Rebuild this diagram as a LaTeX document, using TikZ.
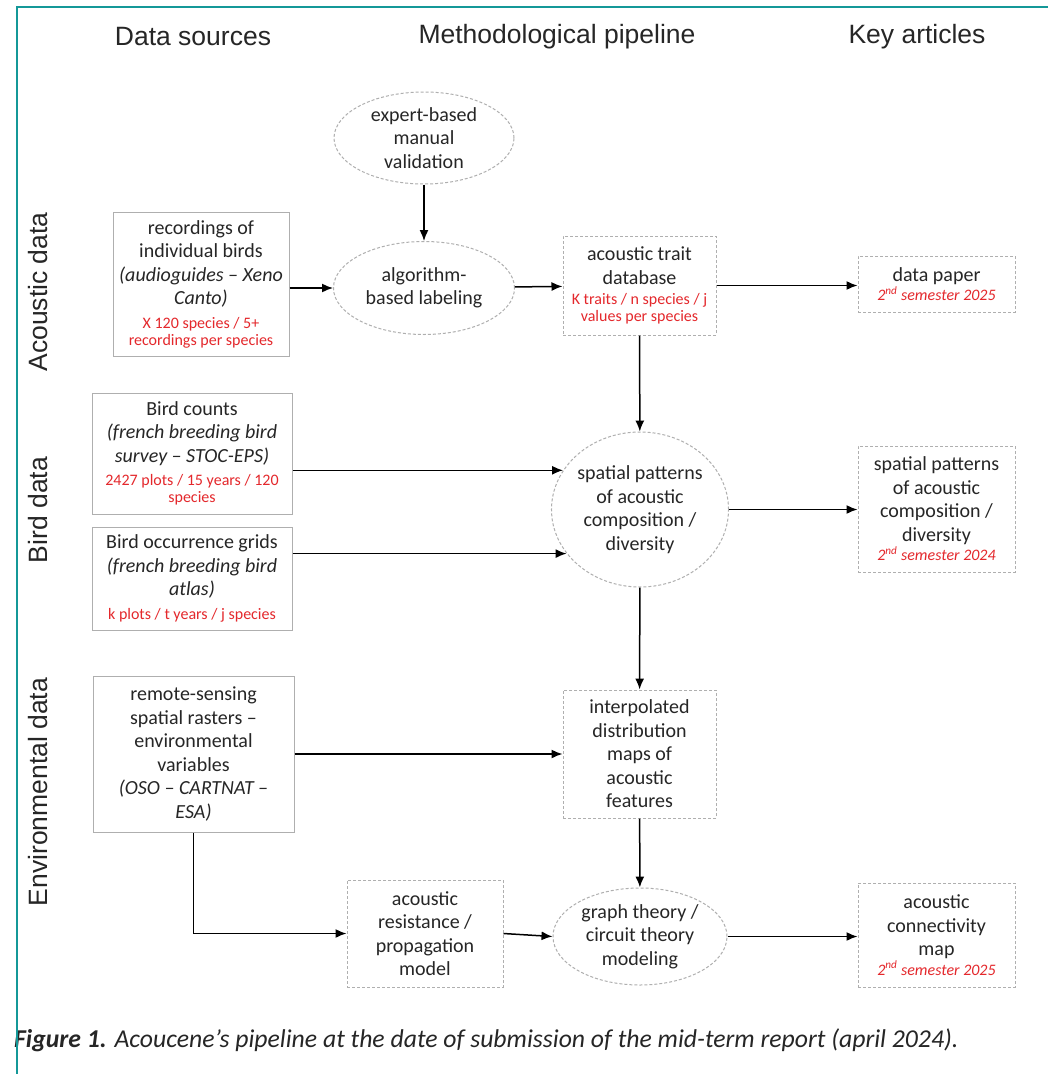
\documentclass[tikz,border=0pt]{standalone}
\usepackage{fontspec}
\setmainfont{Carlito}
\newfontfamily\headfont{Liberation Sans}
\usetikzlibrary{shapes.geometric,arrows.meta}
\definecolor{frameteal}{RGB}{20,152,152}
\definecolor{notered}{RGB}{228,40,44}
\definecolor{boxgray}{RGB}{175,175,175}
\newcommand{\redline}[1]{{\color{notered}\fontsize{16}{17}\selectfont #1}}
\newcommand{\dateline}[1]{{\color{notered}\fontsize{16}{17}\selectfont\itshape #1}}
\tikzset{
  txt/.style={font=\fontsize{20}{23.5}\selectfont, text=black!85, align=center, inner sep=2pt},
  srcbox/.style={txt, draw=boxgray, line width=1pt, rectangle},
  dashbox/.style={txt, draw=boxgray, line width=1pt, dash pattern=on 3pt off 2pt, rectangle},
  dashell/.style={txt, draw=boxgray, line width=1pt, dash pattern=on 3pt off 2pt, ellipse, inner sep=0pt},
  arr/.style={draw=black, line width=1.5pt, -{Latex[length=11pt,width=9pt]}},
  head/.style={font=\headfont\fontsize{26.5}{30}\selectfont, text=black!85},
  side/.style={font=\headfont\fontsize{26.5}{30}\selectfont, text=black!85, rotate=90}
}
\begin{document}
\begin{tikzpicture}[x=1pt,y=-1pt]
\useasboundingbox (0,0) rectangle (1048,1074);
\fill[white] (0,0) rectangle (1048,1074);

% column headers
\node[head] (hsrc) at (193,37) {Data sources};
\node[head] (hpipe) at (557,37) {Methodological pipeline};
\node[head] (hart) at (917,37) {Key articles};

% row labels
\node[side] (lac) at (38,292) {Acoustic data};
\node[side] (lbird) at (38,510) {Bird data};
\node[side] (lenv) at (38,792) {Environmental data};

% data sources
\node[srcbox, minimum width=176pt, minimum height=144pt] (rec) at (201,284)
  {recordings of\\individual birds\\\textit{(audioguides -- Xeno}\\\textit{Canto)}\\
   \redline{X 120 species / 5+}\\[-6.5pt]\redline{recordings per species}};
\node[srcbox, minimum width=200pt, minimum height=121pt] (bc) at (192,453.5)
  {Bird counts\\\textit{(french breeding bird}\\\textit{survey -- STOC-EPS)}\\
   \redline{2427 plots / 15 years / 120}\\[-6.5pt]\redline{species}};
\node[srcbox, minimum width=200pt, minimum height=103pt] (occ) at (192,578.5)
  {Bird occurrence grids\\\textit{(french breeding bird}\\\textit{atlas)}\\
   \redline{k plots / t years / j species}};
\node[srcbox, minimum width=201pt, minimum height=156pt] (rs) at (193.5,754)
  {remote-sensing\\spatial rasters --\\environmental\\variables\\\textit{(OSO -- CARTNAT --}\\\textit{ESA)}};

% pipeline
\node[dashell, minimum width=180pt, minimum height=92pt] (exp) at (424,138)
  {expert-based\\manual\\validation};
\node[dashell, minimum width=181pt, minimum height=93pt] (alg) at (424,288)
  {algorithm-\\based labeling};
\node[dashbox, minimum width=153pt, minimum height=99pt] (db) at (639.5,285.5)
  {acoustic trait\\database\\[-3pt]\redline{K traits / n species / j}\\[-6.5pt]\redline{values per species}};
\node[dashell, minimum width=174pt, minimum height=155pt] (sp) at (640,509.5)
  {spatial patterns\\of acoustic\\composition /\\diversity};
\node[dashbox, minimum width=153pt, minimum height=128pt] (ip) at (639.5,754)
  {interpolated\\distribution\\maps of\\acoustic\\features};
\node[dashbox, minimum width=156pt, minimum height=107pt] (res) at (425,933.5)
  {acoustic\\resistance /\\propagation\\model};
\node[dashell, minimum width=174pt, minimum height=97pt] (gr) at (640,936.5)
  {graph theory /\\circuit theory\\modeling};

% key articles
\node[dashbox, minimum width=157pt, minimum height=56pt] (pap) at (936.5,284)
  {data paper\\[-4pt]\dateline{2\textsuperscript{nd} semester 2025}};
\node[dashbox, minimum width=157pt, minimum height=126pt] (spr) at (936.5,509)
  {spatial patterns\\of acoustic\\composition /\\diversity\\[-4pt]\dateline{2\textsuperscript{nd} semester 2024}};
\node[dashbox, minimum width=157pt, minimum height=104pt] (con) at (936.5,935)
  {acoustic\\connectivity\\map\\[-4pt]\dateline{2\textsuperscript{nd} semester 2025}};

% connectors
\draw[arr] (exp) -- (alg);
\draw[arr] (rec.east |- alg) -- (alg);
\draw[arr] (alg) -- (db);
\draw[arr] (db) -- (pap.west |- db);
\draw[arr] (db) -- (sp);
\draw[arr] (bc.east |- sp.153) -- (sp.153);
\draw[arr] (occ.east |- sp.211) -- (sp.211);
\draw[arr] (sp) -- (spr.west |- sp);
\draw[arr] (sp) -- (ip);
\draw[arr] (rs) -- (ip);
\draw[arr] (ip) -- (gr);
\draw[arr] (rs.south) |- (res.west);
\draw[arr] (res.east) -- (gr.west);
\draw[arr] (gr) -- (con.west |- gr);

% caption
\node[anchor=west, font=\fontsize{25.7}{29}\selectfont, text=black!85, inner sep=0pt] (cap) at (14,1040)
  {\textbf{\textit{Figure 1.}} \textit{Acoucene’s pipeline at the date of submission of the mid-term report (april 2024).}};

% frame
\draw[frameteal, line width=2pt] (17,1074) -- (17,7) -- (1048,7);
\end{tikzpicture}
\end{document}
